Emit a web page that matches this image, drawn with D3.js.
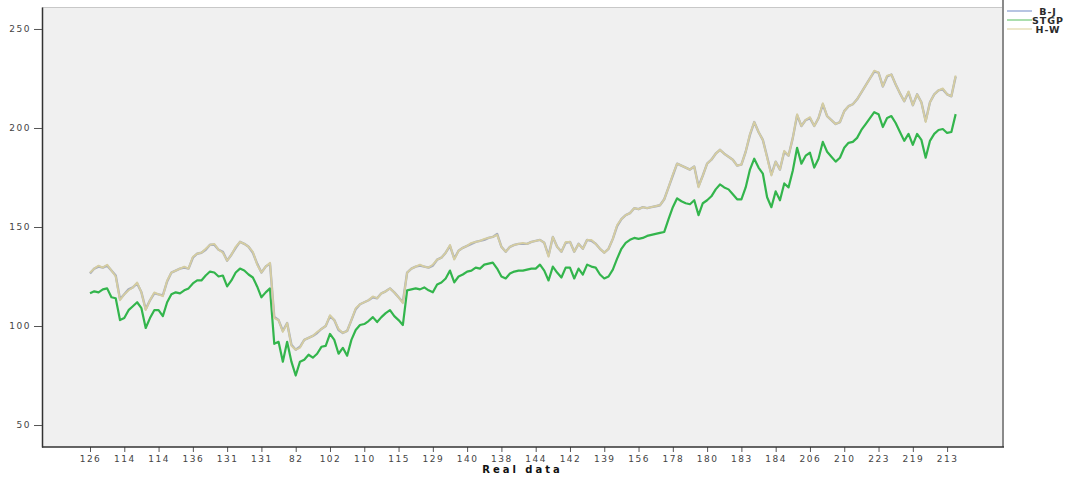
<!DOCTYPE html>
<html>
<head>
<meta charset="utf-8">
<script src="https://cdn.jsdelivr.net/npm/d3@7"></script>
<style>
  html, body { margin: 0; padding: 0; background: #ffffff; }
  svg { display: block; }
</style>
</head>
<body>
<svg id="chart" width="1089" height="479"></svg>
<script>
// Forecast series, one value per observation
const hwValues = [
  127, 129, 130.5, 129.5, 131, 128, 125, 113, 116, 118,
  119.5, 122, 117, 108, 113, 117, 116, 115, 123, 127,
  128, 129, 130, 129, 135, 136.5, 137, 139, 141, 141.5,
  138.5, 137, 133, 136, 140, 142.5, 141.5, 140, 137.5, 131,
  127, 130, 132, 104, 103, 97, 101.5, 90, 88, 89,
  93, 94, 95, 97, 98.5, 100, 105.5, 103, 98.5, 96.5,
  97.5, 103, 109, 111, 112, 113, 115, 114, 116.5, 117.5,
  119, 117, 114.5, 111.5, 127, 129, 130, 131, 130, 129.5,
  131, 133.5, 134.5, 137, 141, 133.5, 138, 139.5, 140.5, 142,
  142.5, 143, 144, 144.5, 145, 146, 140, 137.5, 140, 141,
  141.5, 142, 141.5, 142.5, 143, 143.5, 142, 135, 145, 140,
  137.5, 142.5, 142.5, 137.5, 141.5, 139, 143.5, 143.5, 141.5, 139,
  137, 139, 144, 151, 154, 156, 157, 159.5, 159, 160,
  159.5, 160, 160.5, 161, 164, 170, 176.5, 182, 181, 180,
  179, 180.5, 170, 176, 182, 184, 187, 189, 187, 185.5,
  184, 181, 181.5, 188, 197, 203, 198, 194, 185, 176,
  183, 179, 188.5, 186, 195, 207, 201, 204, 205.5, 201,
  205, 212.5, 206, 204, 202, 203, 208.5, 211, 212, 214.5,
  218, 221.5, 225, 229, 228, 221, 226.5, 227, 222, 217.5,
  213.5, 218.5, 211.5, 217, 213, 203, 213, 217, 219, 220,
  217, 216, 226.5
];

const bjValues = [
  126.5, 129, 130, 129.5, 130.5, 128, 125.5, 113.5, 116, 118.5,
  119.5, 121.5, 117, 108.5, 113, 116.5, 116, 115.5, 122.5, 127,
  128, 129, 129.5, 129, 134.5, 136.5, 137, 138.5, 141, 141,
  138.5, 137.5, 133, 136, 139.5, 142.5, 141.5, 140, 137, 131.5,
  127, 130, 131.5, 104.5, 103, 97.5, 101.5, 90.5, 88, 89.5,
  93, 94, 95, 96.5, 98.5, 100, 105, 103, 98, 96.5,
  97.5, 103, 108.5, 111, 112, 113, 114.5, 114, 116.5, 117.5,
  119, 117, 114.5, 112, 127, 129, 130, 130.5, 130, 129.5,
  130.5, 133.5, 134.5, 137, 140.5, 134, 138, 139.5, 140.5, 141.5,
  142.5, 143, 143.5, 144.5, 145, 146.5, 140, 137.5, 140, 141,
  141.5, 141.5, 141.5, 142.5, 143, 143.5, 142, 135.5, 145, 140,
  137.5, 142, 142.5, 137.5, 141.5, 139, 143.5, 143, 141.5, 139,
  137, 139, 144, 150.5, 154, 156, 157, 159.5, 159, 160,
  159.5, 160, 160.5, 161, 164, 170, 176, 182, 181, 180,
  179, 180.5, 170.5, 176, 182, 184, 187, 189, 187, 185.5,
  184, 181, 181.5, 188, 196.5, 203, 198, 194, 185.5, 176.5,
  183, 179, 188, 186, 195, 206.5, 201, 204, 205, 201,
  205, 212, 206, 204, 202, 203, 208.5, 211, 212, 214.5,
  218, 221.5, 225, 228.5, 228, 221, 226, 227, 222, 217.5,
  213.5, 218, 211.5, 217, 213, 203.5, 213, 217, 219, 219.5,
  217, 216, 226
];

const stgpValues = [
  116.5, 117.5, 117, 118.5, 119, 114.5, 114, 103, 104, 108,
  110, 112, 109, 99, 104, 108, 108, 105, 112, 116,
  117, 116.5, 118, 119, 121.5, 123, 123, 125.5, 127.5, 127,
  125, 125.5, 120, 123, 127, 129, 128, 126, 124.5, 120,
  114.5, 117, 119, 91, 92, 82, 92, 82, 75, 82,
  83, 85.5, 84, 86, 89.5, 90, 96, 93, 86, 89,
  85, 93, 98, 100.5, 101, 102.5, 104.5, 102, 104.5, 106.5,
  108, 105, 103, 100.5, 118, 118.5, 119, 118.5, 119.5, 118,
  117, 121, 122, 124, 128, 122, 125, 126, 127.5, 128,
  129.5, 129, 131, 131.5, 132, 129, 125, 124, 126.5, 127.5,
  128, 128, 128.5, 129, 129, 131, 128, 123, 130, 127,
  124.5, 129.5, 129.5, 124, 129, 126, 131, 130, 129.5, 126,
  124, 125, 128.5, 134, 139, 142, 143.5, 144.5, 144, 144.5,
  145.5, 146, 146.5, 147, 147.5, 154, 160, 164.5, 163, 162,
  161.5, 163.5, 156, 162, 163.5, 165.5, 169, 171.5, 170, 169,
  166.5, 164, 164, 170, 179, 184.5, 180, 177, 165, 160,
  168, 163.5, 172, 170, 178.5, 190, 182, 186, 187.5, 180,
  184.5, 193, 188, 185.5, 183, 185, 190, 192.5, 193, 195,
  199, 202, 205, 208, 207, 200.5, 205, 206, 202.5, 198,
  193.5, 197, 191.5, 197, 194, 185, 193.5, 197, 199, 199.5,
  197.5, 198, 207
];

// "Real data" values shown under every 8th observation
const tickLabels = [
  "126", "114", "114", "136", "131", "131", "82", "102", "110", "115",
  "129", "140", "138", "144", "142", "139", "156", "178", "180", "183",
  "184", "206", "210", "223", "219", "213"
];
const tickStep = 8;

const seriesNames = ["B-J", "STGP", "H-W"];
const seriesColors = { "B-J": "#a7adbb", "STGP": "#33b54c", "H-W": "#d5cda1" };
const legendColors = { "B-J": "#9fb1d9", "STGP": "#8fd393", "H-W": "#e7dfb9" };

const svg = d3.select("#chart");
const plot = { left: 42, right: 1003, top: 7, bottom: 447 };

const x = d3.scaleLinear()
  .domain([0, (tickLabels.length - 1) * tickStep])
  .range([90, 947.1]);

const y = d3.scaleLinear()
  .domain([38.9, 261.1])
  .range([plot.bottom, plot.top]);

// Plot background
svg.append("rect")
  .attr("x", plot.left).attr("y", plot.top)
  .attr("width", plot.right - plot.left)
  .attr("height", plot.bottom - plot.top)
  .attr("fill", "#f0f0f0");

// Frame: light top and right edges
svg.append("line")
  .attr("x1", plot.left).attr("x2", plot.right)
  .attr("y1", plot.top + 0.5).attr("y2", plot.top + 0.5)
  .attr("stroke", "#c8c8c8").attr("stroke-width", 1);
svg.append("line")
  .attr("x1", plot.right).attr("x2", plot.right)
  .attr("y1", 0).attr("y2", plot.bottom)
  .attr("stroke", "#8a8a8a").attr("stroke-width", 2);

// Lines
const line = d3.line()
  .x((d, i) => x(i))
  .y(d => y(d));

const lines = svg.append("g");
lines.append("path").datum(stgpValues)
  .attr("d", line).attr("fill", "none")
  .attr("stroke", seriesColors["STGP"]).attr("stroke-width", 2.2)
  .attr("stroke-linejoin", "round");
lines.append("path").datum(bjValues)
  .attr("d", line).attr("fill", "none")
  .attr("stroke", seriesColors["B-J"]).attr("stroke-width", 2.4)
  .attr("stroke-linejoin", "round");
lines.append("path").datum(hwValues)
  .attr("d", line).attr("fill", "none")
  .attr("stroke", seriesColors["H-W"]).attr("stroke-width", 1.8)
  .attr("stroke-linejoin", "round");

// Y axis
const yAxis = d3.axisLeft(y)
  .tickValues([50, 100, 150, 200, 250])
  .tickSizeInner(8).tickSizeOuter(0).tickPadding(3);
const gy = svg.append("g")
  .attr("transform", `translate(${plot.left},0)`)
  .call(yAxis);
gy.select(".domain").attr("stroke", "#333").attr("stroke-width", 1.5);
gy.selectAll(".tick line").attr("stroke", "#555");
gy.selectAll(".tick text")
  .attr("fill", "#444")
  .style("font-family", "'DejaVu Sans', sans-serif")
  .style("font-size", "9px")
  .style("letter-spacing", "1.5px");

// X axis (categorical observations labelled with the real data value)
const tickIdx = tickLabels.map((d, i) => i * tickStep);
const xAxis = d3.axisBottom(x)
  .tickValues(tickIdx)
  .tickFormat((d, i) => tickLabels[i])
  .tickSizeInner(5).tickSizeOuter(0).tickPadding(4);
const gx = svg.append("g")
  .attr("transform", `translate(0,${plot.bottom})`)
  .call(xAxis);
gx.select(".domain").remove();
gx.append("line")
  .attr("x1", plot.left).attr("x2", plot.right + 1)
  .attr("y1", 0).attr("y2", 0)
  .attr("stroke", "#333").attr("stroke-width", 1.5);
gx.selectAll(".tick line").attr("stroke", "#555");
gx.selectAll(".tick text")
  .attr("fill", "#444")
  .style("font-family", "'DejaVu Sans', sans-serif")
  .style("font-size", "9px")
  .style("letter-spacing", "1.5px");

// Axis title
svg.append("text")
  .attr("x", (plot.left + plot.right) / 2)
  .attr("y", 473)
  .attr("text-anchor", "middle")
  .style("font-family", "'DejaVu Sans', sans-serif")
  .style("font-size", "10px")
  .style("font-weight", "bold")
  .style("letter-spacing", "3px")
  .attr("fill", "#111")
  .text("Real data");

// Legend
const legend = svg.append("g");
const legendRows = [11, 20, 29];
seriesNames.forEach((name, i) => {
  legend.append("line")
    .attr("x1", 1007).attr("x2", 1032)
    .attr("y1", legendRows[i]).attr("y2", legendRows[i])
    .attr("stroke", legendColors[name]).attr("stroke-width", 1.5);
  legend.append("text")
    .attr("x", 1048).attr("y", legendRows[i] + 3.5)
    .attr("text-anchor", "middle")
    .style("font-family", "'DejaVu Sans', sans-serif")
    .style("font-size", "9.5px")
    .style("font-weight", "bold")
    .style("letter-spacing", "1px")
    .attr("fill", "#2a2a2a")
    .text(name);
});
</script>
</body>
</html>
